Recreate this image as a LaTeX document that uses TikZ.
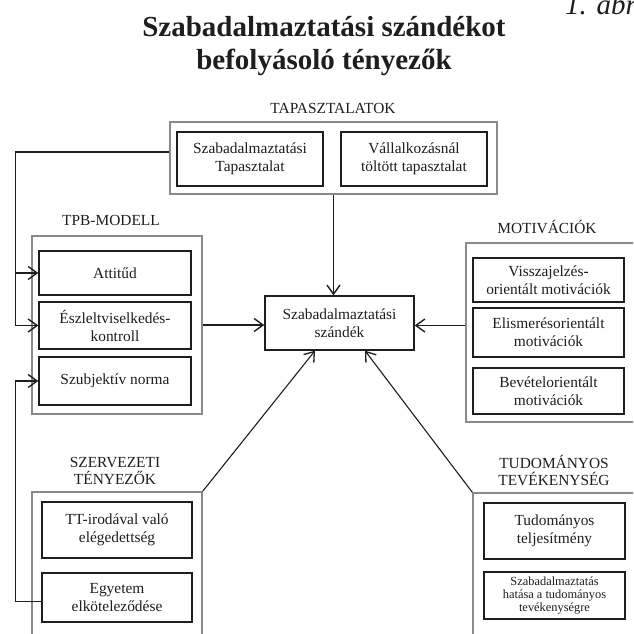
\documentclass[tikz,border=0pt]{standalone}
\usepackage{fontspec}
\setmainfont{Liberation Serif}
\usetikzlibrary{arrows.meta}
\definecolor{ink}{HTML}{1E1E1E}
\definecolor{outerc}{HTML}{8A8A8A}
\tikzset{
  inbox/.style={draw=ink, line width=1.4pt, inner sep=0pt, align=center, text=ink,
     font=\fontsize{15.4}{18}\selectfont},
  outbox/.style={draw=outerc, line width=1.3pt, inner sep=0pt},
  grouplabel/.style={inner sep=0pt, align=center, text=ink, font=\fontsize{15.4}{17.5}\selectfont},
  conn/.style={draw=ink, line width=1.4pt},
  arr/.style={conn, -{Straight Barb[length=9pt,width=13pt]}},
  diag/.style={draw=ink, line width=1.1pt, -{Straight Barb[length=9pt,width=13pt,line width=1.3pt]}},
}
\begin{document}
\begin{tikzpicture}[x=1pt,y=-1pt]
\useasboundingbox (0,0) rectangle (633,634);
\clip (0,0) rectangle (633,634);
\fill[white] (0,0) rectangle (633,634);

% caption fragment and title
\node[anchor=base west, inner sep=0pt, text=ink, font=\fontsize{29}{33}\selectfont\itshape] (abra) at (565,15) {1. ábra};
\node[anchor=base, inner sep=0pt, text=ink, font=\fontsize{29}{33}\selectfont\bfseries] (titleA) at (324,37) {Szabadalmaztatási szándékot};
\node[anchor=base, inner sep=0pt, text=ink, font=\fontsize{29}{33}\selectfont\bfseries] (titleB) at (324,70) {befolyásoló tényezők};

% TAPASZTALATOK
\node[grouplabel, anchor=base] (taplab) at (333,113) {TAPASZTALATOK};
\node[outbox, minimum width=327pt, minimum height=72pt] (tap) at (333.5,158) {};
\node[inbox, minimum width=146pt, minimum height=54pt] (sztap) at (250,159) {Szabadalmaztatási\\Tapasztalat};
\node[inbox, minimum width=146pt, minimum height=54pt] (vall) at (414,159) {Vállalkozásnál\\töltött tapasztalat};

% TPB-MODELL
\node[grouplabel, anchor=base] (tpblab) at (111,225) {TPB-MODELL};
\node[outbox, minimum width=170pt, minimum height=178pt] (tpb) at (117,325) {};
\node[inbox, minimum width=152pt, minimum height=44pt] (att) at (115,273) {Attitűd};
\node[inbox, minimum width=152pt, minimum height=47pt] (ek) at (115,325.5) {Észleltviselkedés-\\kontroll};
\node[inbox, minimum width=152pt, minimum height=48pt] (szn) at (115,381) {Szubjektív norma};

% central
\node[inbox, minimum width=149pt, minimum height=54pt] (central) at (339.5,323) {Szabadalmaztatási\\szándék};

% MOTIVÁCIÓK
\node[grouplabel, anchor=base] (motlab) at (547,233) {MOTIVÁCIÓK};
\node[outbox, minimum width=179pt, minimum height=179pt] (motiv) at (555.5,332.5) {};
\node[inbox, minimum width=151pt, minimum height=44pt] (vissza) at (548.5,280) {Visszajelzés-\\orientált motivációk};
\node[inbox, minimum width=151pt, minimum height=49pt] (elism) at (548.5,332.5) {Elismerésorientált\\motivációk};
\node[inbox, minimum width=151pt, minimum height=46pt] (bevet) at (548.5,391) {Bevételorientált\\motivációk};

% SZERVEZETI TÉNYEZŐK
\node[grouplabel, anchor=south] (szlab) at (115,485) {SZERVEZETI\\TÉNYEZŐK};
\node[outbox, minimum width=170pt, minimum height=158pt] (szerv) at (117,571) {};
\node[inbox, minimum width=150pt, minimum height=56pt] (ttir) at (117,530) {TT-irodával való\\elégedettség};
\node[inbox, minimum width=150pt, minimum height=49pt] (egy) at (117,597.5) {Egyetem\\elköteleződése};

% TUDOMÁNYOS TEVÉKENYSÉG
\node[grouplabel, anchor=south] (tudlab) at (554,486) {TUDOMÁNYOS\\TEVÉKENYSÉG};
\node[outbox, minimum width=177pt, minimum height=157pt] (tud) at (561.5,571.5) {};
\node[inbox, minimum width=141pt, minimum height=56pt] (tudtel) at (554.5,531) {Tudományos\\teljesítmény};
\node[inbox, minimum width=141pt, minimum height=47pt, font=\fontsize{12.4}{13}\selectfont] (hatas) at (554.5,595.5) {Szabadalmaztatás\\hatása a tudományos\\tevékenységre};

% connectors
\coordinate (leftx) at (15.5,0);
\draw[arr] (tap.south) -- (tap.south |- central.north);
\draw[arr] (tpb.east) -- (tpb.east -| central.west);
\draw[arr] (motiv.west |- ek.west) -- (ek.west -| central.east);
\draw[arr] ([yshift=6pt]tap.west) -| (ek.west -| leftx) -- (ek.west);
\draw[arr] (att.west -| leftx) -- (att.west);
\draw[arr] ([yshift=-4pt]egy.west) -| (szn.west -| leftx) -- (szn.west);
\draw[diag] (szerv.north east) -- ([xshift=-24.5pt]central.south);
\draw[diag] (tud.north west) -- ([xshift=25.5pt]central.south);
\end{tikzpicture}
\end{document}
